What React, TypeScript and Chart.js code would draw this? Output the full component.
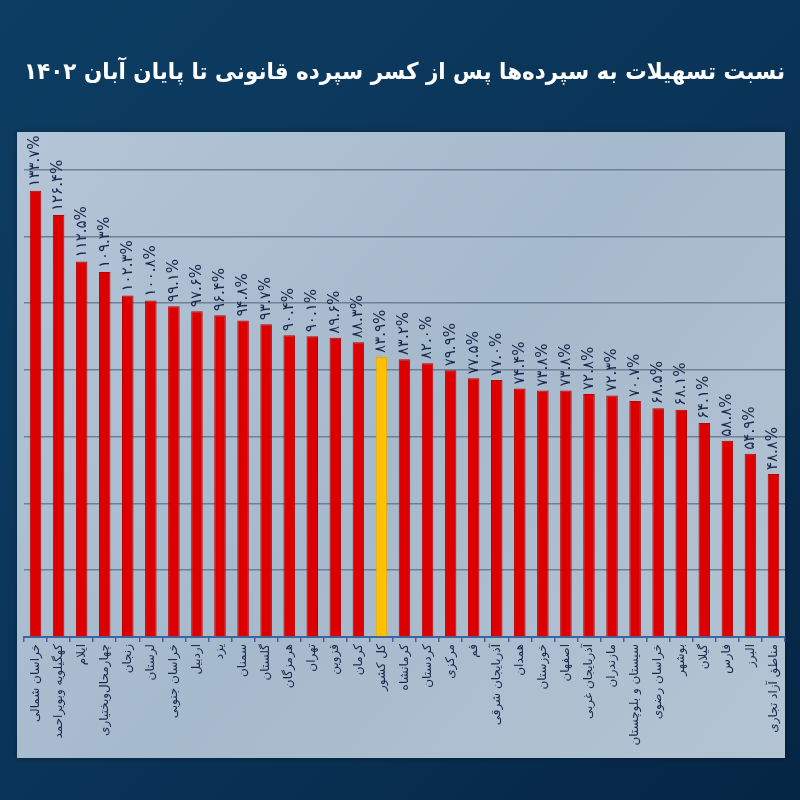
import React, { useEffect, useRef } from "react";
import { Chart, registerables } from "chart.js";

Chart.register(...registerables);

const titleText = "نسبت تسهیلات به سپرده‌ها پس از کسر سپرده قانونی تا پایان آبان ۱۴۰۲";

const categories = [
  "خراسان شمالی",
  "کهگیلویه وبویراحمد",
  "ایلام",
  "چهارمحال‌وبختیاری",
  "زنجان",
  "لرستان",
  "خراسان جنوبی",
  "اردبیل",
  "یزد",
  "سمنان",
  "گلستان",
  "هرمزگان",
  "تهران",
  "قزوین",
  "کرمان",
  "کل کشور",
  "کرمانشاه",
  "کردستان",
  "مرکزی",
  "قم",
  "آذربایجان شرقی",
  "همدان",
  "خوزستان",
  "اصفهان",
  "آذربایجان غربی",
  "مازندران",
  "سیستان و بلوچستان",
  "خراسان رضوی",
  "بوشهر",
  "گیلان",
  "فارس",
  "البرز",
  "مناطق آزاد تجاری",
];

const values = [
  133.7, 126.4, 112.5, 109.3, 102.3, 100.8, 99.1, 97.6, 96.4, 94.8, 93.7,
  90.4, 90.1, 89.6, 88.3, 83.9, 83.2, 82.0, 79.9, 77.5, 77.0, 74.4, 73.8,
  73.8, 72.8, 72.3, 70.7, 68.5, 68.1, 64.1, 58.8, 54.9, 48.8,
];

const highlightCategory = "کل کشور";

const yTicks = [0, 20, 40, 60, 80, 100, 120, 140];

const persianDigits = "۰۱۲۳۴۵۶۷۸۹";
const toPersian = (s: string) => s.replace(/[0-9]/g, (d) => persianDigits[Number(d)]);

const FONT = "'DejaVu Sans', 'Noto Sans', sans-serif";
const TEXT_COLOR = "#17284a";

const panelPlugin = {
  id: "panel",
  beforeDraw(chart: any) {
    const { ctx } = chart;
    ctx.save();
    const bg = ctx.createLinearGradient(0, 0, 800, 800);
    bg.addColorStop(0, "#0d3d63");
    bg.addColorStop(0.5, "#0a3458");
    bg.addColorStop(1, "#052544");
    ctx.fillStyle = bg;
    ctx.fillRect(0, 0, 800, 800);
    const area = chart.chartArea;
    const left = area.left - 7;
    const right = area.right;
    const top = 132;
    const bottom = 758;
    ctx.shadowColor = "rgba(0,0,0,0.35)";
    ctx.shadowBlur = 6;
    const pg = ctx.createLinearGradient(left, top, right, bottom);
    pg.addColorStop(0, "#b3c5d7");
    pg.addColorStop(0.5, "#a6bacd");
    pg.addColorStop(1, "#b4c4d3");
    ctx.fillStyle = pg;
    ctx.fillRect(left, top, right - left, bottom - top);
    ctx.restore();
  },
};

const valueLabelPlugin = {
  id: "valueLabels",
  afterDatasetsDraw(chart: any) {
    const { ctx } = chart;
    const meta = chart.getDatasetMeta(0);
    ctx.save();
    ctx.font = `15px ${FONT}`;
    ctx.fillStyle = TEXT_COLOR;
    meta.data.forEach((bar: any, i: number) => {
      const label = toPersian(values[i].toFixed(1)) + "%";
      ctx.save();
      ctx.translate(bar.x, bar.y - 4);
      ctx.rotate(-Math.PI / 2);
      ctx.textAlign = "left";
      ctx.textBaseline = "middle";
      ctx.fillText(label, 0, 0);
      ctx.restore();
    });
    ctx.restore();
  },
};

export default function App() {
  const canvasRef = useRef<HTMLCanvasElement | null>(null);

  useEffect(() => {
    if (!canvasRef.current) return;
    const colors = categories.map((c) => (c === highlightCategory ? "#ffc000" : "#dc0000"));
    const borders = categories.map((c) => (c === highlightCategory ? "#e6a800" : "#b80000"));
    const chart = new Chart(canvasRef.current, {
      type: "bar",
      data: {
        labels: categories,
        datasets: [
          {
            data: values,
            backgroundColor: colors,
            borderColor: borders,
            borderWidth: 1,
            barPercentage: 0.5,
            categoryPercentage: 1,
          },
        ],
      },
      options: {
        animation: false,
        responsive: false,
        maintainAspectRatio: false,
        layout: { padding: { left: 24, right: 15, top: 0, bottom: 0 } },
        plugins: {
          legend: { display: false },
          tooltip: { enabled: false },
          title: {
            display: true,
            text: titleText,
            color: "#ffffff",
            font: { family: FONT, size: 23, weight: "bold" },
            padding: { top: 59, bottom: 83 },
          },
        },
        scales: {
          x: {
            offset: true,
            grid: {
              display: true,
              drawOnChartArea: false,
              drawTicks: true,
              tickLength: 5,
              color: "#3d64a0",
              lineWidth: 1.5,
              offset: true,
            },
            border: { display: true, color: "#3d64a0", width: 2 },
            ticks: {
              autoSkip: false,
              maxRotation: 90,
              minRotation: 90,
              color: TEXT_COLOR,
              font: { family: FONT, size: 12 },
              padding: 2,
            },
            afterFit: (scale: any) => {
              scale.height = 163;
            },
          },
          y: {
            min: 0,
            max: 140,
            afterBuildTicks: (scale: any) => {
              scale.ticks = yTicks.map((v) => ({ value: v }));
            },
            ticks: { display: false },
            border: { display: false },
            grid: {
              color: "#6d8098",
              lineWidth: 1.5,
              drawTicks: false,
            },
            afterFit: (scale: any) => {
              scale.width = 0;
            },
          },
        },
      },
      plugins: [panelPlugin, valueLabelPlugin],
    });
    return () => chart.destroy();
  }, []);

  return (
    <div style={{ position: "fixed", left: 0, top: 0, width: 800, height: 800 }}>
      <canvas ref={canvasRef} width={800} height={800} style={{ width: 800, height: 800 }} />
    </div>
  );
}
